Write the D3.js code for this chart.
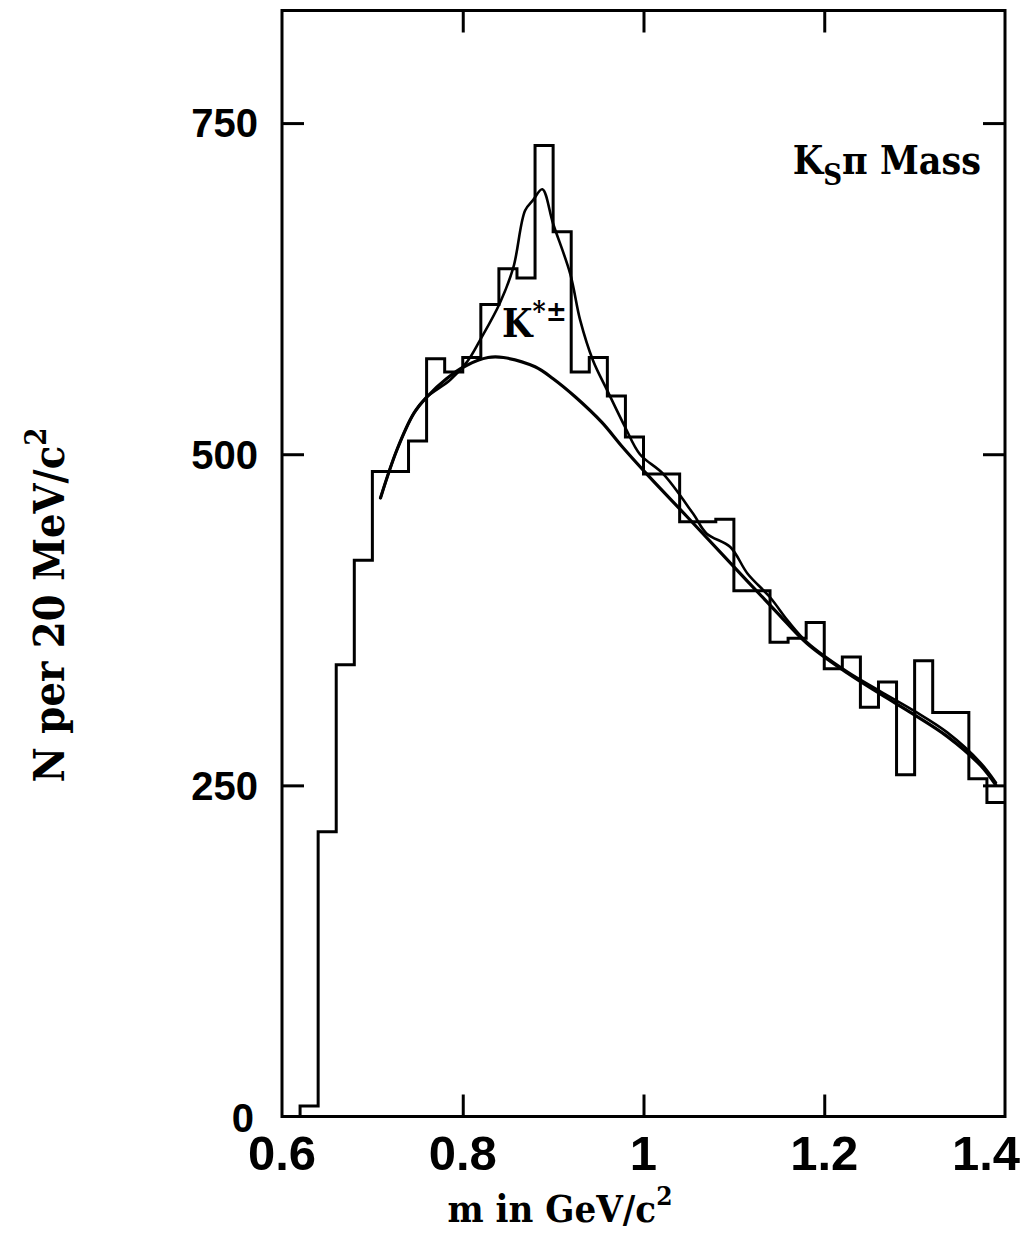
<!DOCTYPE html>
<html>
<head>
<meta charset="utf-8">
<script src="https://cdn.jsdelivr.net/npm/d3@7"></script>
<style>
  html, body { margin: 0; padding: 0; background: #fff; }
  svg { display: block; }
</style>
</head>
<body>
<svg id="chart" width="1029" height="1236"></svg>
<script>
// ---- data ----
const binLow = [0.60,0.62,0.64,0.66,0.68,0.70,0.72,0.74,0.76,0.78,
                0.80,0.82,0.84,0.86,0.88,0.90,0.92,0.94,0.96,0.98,
                1.00,1.02,1.04,1.06,1.08,1.10,1.12,1.14,1.16,1.18,
                1.20,1.22,1.24,1.26,1.28,1.30,1.32,1.34,1.36,1.38];
const binWidth = 0.02;
const counts = [0, 8, 215, 341, 420, 487, 487, 510, 572, 562,
                573, 613, 640, 633, 733, 668, 562, 573, 544, 513,
                485, 485, 449, 449, 451, 397, 397, 358, 361, 373,
                338, 347, 309, 328, 258, 344, 305, 305, 255, 237];

// background curve
const bgMass = [0.709,0.727,0.746,0.760,0.782,0.804,0.828,0.845,0.880,0.900,0.925,0.954,0.976,1.005,1.048,1.096,1.147,1.181,1.225,1.262,1.298,1.336,1.373,1.390];
const bgN    = [467,  503,  531,  543,  557,  567,  573,  573,  566,  557,  543,  524,  506,  484,  453,  418,  381,  357,  335,  319,  304,  287,  265,  250];

// full fit (background + K*±)
const fitMass = [0.709,0.727,0.746,0.760,0.786,0.805,0.819,0.841,0.856,0.869,0.878,0.888,0.900,0.919,0.930,0.944,0.960,0.980,0.996,1.022,1.055,1.070,1.096,1.115,1.140,1.160,1.181,1.225,1.262,1.300,1.336,1.373,1.390];
const fitN    = [467,  503,  531,  543,  556,  570,  586,  614,  641,  684,  692,  700,  674,  636,  601,  571,  548,  520,  500,  485,  455,  440,  430,  410,  392,  374,  358,  336,  321,  306,  290,  267,  252];

const yTicks = [0, 250, 500, 750];
const xTicks = [0.6, 0.8, 1.0, 1.2, 1.4];
const xTickLabels = ["0.6", "0.8", "1", "1.2", "1.4"];

// ---- drawing ----
const svg = d3.select("#chart");
const pL = 282, pR = 1005, pT = 10.5, pB = 1116.5;

const x = d3.scaleLinear().domain([0.6, 1.4]).range([pL, pR]);
const y = d3.scaleLinear().domain([0, 835]).range([pB, pT]);

// histogram
const histPts = binLow.map((b, i) => [b, counts[i]]);
histPts.push([binLow[binLow.length - 1] + binWidth, counts[counts.length - 1]]);
const stepLine = d3.line().x(d => x(d[0])).y(d => y(d[1])).curve(d3.curveStepAfter);
svg.append("path")
  .attr("d", stepLine(histPts))
  .attr("fill", "none").attr("stroke", "#000").attr("stroke-width", 3)
  .attr("stroke-linejoin", "miter");

// curves
const smooth = d3.line().x(d => x(d[0])).y(d => y(d[1])).curve(d3.curveCatmullRom.alpha(0.5));
svg.append("path")
  .attr("d", smooth(bgMass.map((m, i) => [m, bgN[i]])))
  .attr("fill", "none").attr("stroke", "#000").attr("stroke-width", 3.2)
  .attr("stroke-linecap", "round");
svg.append("path")
  .attr("d", smooth(fitMass.map((m, i) => [m, fitN[i]])))
  .attr("fill", "none").attr("stroke", "#000").attr("stroke-width", 2.6)
  .attr("stroke-linecap", "round");

// frame
svg.append("rect")
  .attr("x", pL).attr("y", pT)
  .attr("width", pR - pL).attr("height", pB - pT)
  .attr("fill", "none").attr("stroke", "#000").attr("stroke-width", 3);

// axes with inward ticks
const tickLen = 22;
const axL = d3.axisLeft(y).tickValues(yTicks.filter(v => v > 0)).tickSize(-tickLen).tickFormat("");
const axR = d3.axisRight(y).tickValues(yTicks.filter(v => v > 0)).tickSize(-tickLen).tickFormat("");
const axB = d3.axisBottom(x).tickValues(xTicks.slice(1, -1)).tickSize(-tickLen).tickFormat("");
const axT = d3.axisTop(x).tickValues(xTicks.slice(1, -1)).tickSize(-tickLen).tickFormat("");
[[axL, `translate(${pL},0)`], [axR, `translate(${pR},0)`],
 [axB, `translate(0,${pB})`], [axT, `translate(0,${pT})`]].forEach(([ax, tr]) => {
  const g = svg.append("g").attr("transform", tr).call(ax);
  g.select(".domain").remove();
  g.selectAll(".tick line").attr("stroke", "#000").attr("stroke-width", 3);
});

const sans = "Liberation Sans, Arial, Helvetica, sans-serif";
// y tick labels
svg.append("g").selectAll("text").data(yTicks).join("text")
  .attr("x", (d, i) => i === 0 ? 254 : 258).attr("y", d => y(d))
  .attr("dy", (d, i) => i === 0 ? "0.38em" : "0.36em")
  .attr("text-anchor", "end")
  .attr("font-family", sans)
  .attr("font-weight", "bold")
  .attr("font-size", 40)
  .text(d => d);

// x tick labels
svg.append("g").selectAll("text").data(xTicks).join("text")
  .attr("x", (d, i) => i === xTicks.length - 1 ? x(d) - 19 : x(d))
  .attr("y", 1170)
  .attr("text-anchor", "middle")
  .attr("font-family", sans)
  .attr("font-weight", "bold")
  .attr("font-size", 49)
  .text((d, i) => xTickLabels[i]);

// axis titles
const serif = "DejaVu Serif Condensed, DejaVu Serif, Liberation Serif, serif";
const xt = svg.append("text")
  .attr("x", 560).attr("y", 1222)
  .attr("text-anchor", "middle")
  .attr("font-family", serif).attr("font-weight", "bold").attr("font-size", 38);
xt.append("tspan").text("m in GeV/c");
xt.append("tspan").attr("dy", -17).attr("font-size", 26).text("2");

const yt = svg.append("text")
  .attr("transform", "translate(64,605) rotate(-90)")
  .attr("text-anchor", "middle")
  .attr("font-family", serif).attr("font-weight", "bold").attr("font-size", 43);
yt.append("tspan").text("N per 20 MeV/c");
yt.append("tspan").attr("dy", -18).attr("font-size", 29).text("2");

// in-plot labels
const lab = svg.append("text")
  .attr("x", 981).attr("y", 174)
  .attr("text-anchor", "end")
  .attr("font-family", serif).attr("font-weight", "bold").attr("font-size", 39);
lab.append("tspan").text("K");
lab.append("tspan").attr("dy", 11).attr("font-size", 29).text("S");
lab.append("tspan").attr("dy", -11).text("π  Mass");

const ks = svg.append("text")
  .attr("x", 502).attr("y", 337)
  .attr("font-family", serif).attr("font-weight", "bold").attr("font-size", 39);
ks.append("tspan").text("K");
ks.append("tspan").attr("dy", -16).attr("font-size", 28).text("*±");
</script>
</body>
</html>
